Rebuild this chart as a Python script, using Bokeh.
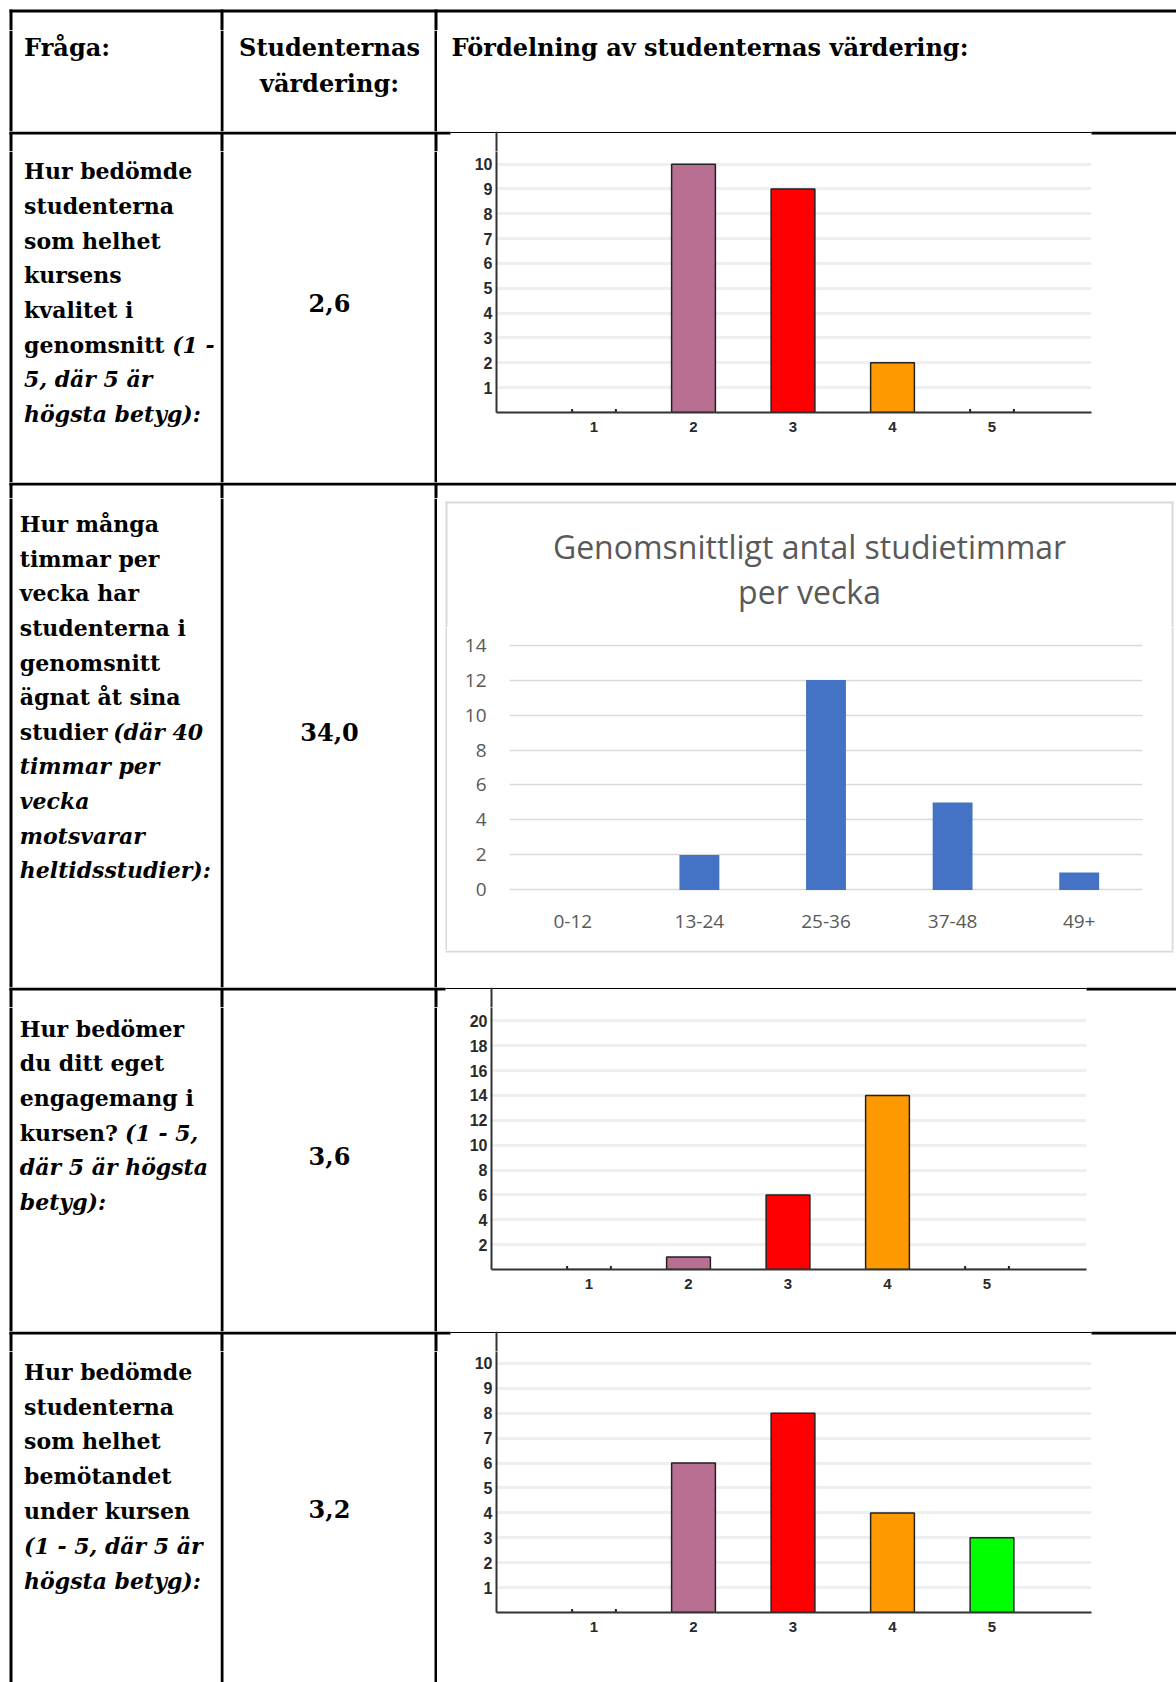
from bokeh.plotting import figure
from bokeh.layouts import row, column
from bokeh.models import Range1d, FactorRange, FixedTicker
from bokeh.core.properties import value
from bokeh.embed import file_html
from bokeh.resources import INLINE

# ---------------- data ----------------
grades = [1, 2, 3, 4, 5]
grade_colors = ["#993366", "#B86F92", "#FF0000", "#FF9900", "#00FF00"]
q1_counts = [0, 10, 9, 2, 0]
q3_counts = [0, 1, 6, 14, 0]
q4_counts = [0, 6, 8, 4, 3]
hours_cats = ["0-12", "13-24", "25-36", "37-48", "49+"]
hours_counts = [0, 2, 12, 5, 1]
q1_ticks = [1, 2, 3, 4, 5, 6, 7, 8, 9, 10]
q3_ticks = [2, 4, 6, 8, 10, 12, 14, 16, 18, 20]
q4_ticks = [1, 2, 3, 4, 5, 6, 7, 8, 9, 10]
hours_ticks = [0, 2, 4, 6, 8, 10, 12, 14]
mean_values = ["2,6", "34,0", "3,6", "3,2"]

header_texts = ["Fråga:", "Studenternas", "värdering:", "Fördelning av studenternas värdering:"]
hours_title = ["Genomsnittligt antal studietimmar", "per vecka"]

# question texts: list of lines, each line a list of (text, italic)
q_lines = [
    [[("Hur bedömde", False)], [("studenterna", False)], [("som helhet", False)],
     [("kursens", False)], [("kvalitet i", False)],
     [("genomsnitt", False), ("(1 -", True)], [("5, där 5 är", True)],
     [("högsta betyg):", True)]],
    [[("Hur många", False)], [("timmar per", False)], [("vecka har", False)],
     [("studenterna i", False)], [("genomsnitt", False)], [("ägnat åt sina", False)],
     [("studier", False), ("(där 40", True)], [("timmar per", True)], [("vecka", True)],
     [("motsvarar", True)], [("heltidsstudier):", True)]],
    [[("Hur bedömer", False)], [("du ditt eget", False)], [("engagemang i", False)],
     [("kursen?", False), ("(1 - 5,", True)], [("där 5 är högsta", True)],
     [("betyg):", True)]],
    [[("Hur bedömde", False)], [("studenterna", False)], [("som helhet", False)],
     [("bemötandet", False)], [("under kursen", False)],
     [("(1 - 5, där 5 är", True)], [("högsta betyg):", True)]],
]

# ---------------- layout constants (pixels) ----------------
W = 1176
W_A, W_B, W_C = 220, 217, 739
ROW_H = [101, 331, 489, 324, 331]          # header, q1..q4
SEP_H = [30, 20, 16, 20, 20]
TFONT = "DejaVu Serif"
BODY_SIZE = "22px"
HEAD_SIZE = "24px"
LINE_STEP = [34.7, 34.6, 34.7, 34.8]
LINE_Y0 = [19.6, 25.6, 21.0, 20.3]
TEXT_X = [23.6, 19.3, 19.3, 23.6]
ITALIC_X = [{5: 171.7}, {6: 112.7}, {3: 124.5}, {}]
VALUE_Y = [151.6, 233.8, 148.6, 157.6]
VCOLS = [(9, 12), (220, 223), (434, 437)]


def cell(w, h, bg="white"):
    p = figure(width=w, height=h, x_range=Range1d(0, w), y_range=Range1d(h, 0),
               min_border=0, toolbar_location=None, output_backend="svg",
               x_axis_location=None, y_axis_location=None, title=None,
               outline_line_color=None, background_fill_color=bg, border_fill_color=bg)
    p.grid.visible = False
    return p


def box(p, l, r, t, b, color="black"):
    p.quad(left=[l], right=[r], top=[t], bottom=[b], fill_color=color, line_color=None)


def txt(p, x, y, s, italic=False, align="left", size=BODY_SIZE):
    p.text(x=[x], y=[y], text=[s], text_font=value(TFONT), text_font_size=size,
           text_font_style="bold italic" if italic else "bold", text_color="black",
           text_align=align, text_baseline="middle")


def separator(h, line_top, thin=None, axis_x=None):
    p = cell(W, h)
    if thin is None:
        box(p, 9, W, line_top, line_top + 3)
    else:
        box(p, 9, thin[0], line_top, line_top + 3)
        box(p, thin[0], thin[1], line_top + 0.4, line_top + 1.6)
        box(p, thin[1], W, line_top, line_top + 3)
    for l, r in VCOLS:
        box(p, l, r, line_top, h)
    if axis_x is not None:
        box(p, axis_x - 1, axis_x + 1, line_top, h, "#333333")
    return p


def text_cells(i):
    h = ROW_H[i + 1]
    a = cell(W_A, h)
    box(a, 9, 12, 0, h)
    for k, segs in enumerate(q_lines[i]):
        y = LINE_Y0[i] + LINE_STEP[i] * k
        for j, (s, it) in enumerate(segs):
            x = TEXT_X[i] if j == 0 else ITALIC_X[i][k]
            txt(a, x, y, s, italic=it)
    b = cell(W_B, h)
    box(b, 0, 3, 0, h); box(b, 214, 217, 0, h)
    txt(b, 109, VALUE_Y[i], mean_values[i], align="center", size=HEAD_SIZE)
    return a, b


def grade_chart(counts, ticks, h, left, right, bottom, ytop):
    p = figure(width=W_C, height=h, x_range=Range1d(0.02, 6.0), y_range=Range1d(0, ytop),
               min_border_left=left, min_border_right=right, min_border_top=0,
               min_border_bottom=bottom, toolbar_location=None, output_backend="svg",
               outline_line_color=None, title=None)
    p.vbar(x=grades, top=counts, width=0.44, fill_color=grade_colors,
           line_color="#222222", line_width=1.5)
    zx = []
    for g, c in zip(grades, counts):
        if c == 0:
            zx += [g - 0.22, g + 0.22]
    p.rect(x=zx, y=[0] * len(zx), width=2, height=7, width_units="screen",
           height_units="screen", fill_color="#222222", line_color=None)
    p.xgrid.visible = False
    p.ygrid.ticker = FixedTicker(ticks=ticks)
    p.ygrid.grid_line_color = "#EFEFEF"
    p.ygrid.grid_line_width = 3
    p.yaxis.ticker = FixedTicker(ticks=ticks)
    p.xaxis.ticker = FixedTicker(ticks=grades)
    for ax in (p.xaxis, p.yaxis):
        ax.axis_line_color = "#333333"
        ax.axis_line_width = 2
        ax.major_tick_line_color = None
        ax.minor_tick_line_color = None
        ax.major_tick_out = 0
        ax.major_tick_in = 0
        ax.major_label_text_font = "Liberation Sans"
        ax.major_label_text_font_style = "bold"
        ax.major_label_text_color = "#2A2A2A"
    p.yaxis.major_label_text_font_size = "16px"
    p.xaxis.major_label_text_font_size = "15px"
    p.yaxis.major_label_standoff = 4
    p.xaxis.major_label_standoff = 9
    return p


parts = []

# ---------------- header ----------------
parts.append(separator(SEP_H[0], 9))
hA = cell(W_A, ROW_H[0])
box(hA, 9, 12, 0, ROW_H[0])
txt(hA, 23.6, 17, header_texts[0], size=HEAD_SIZE)
hB = cell(W_B, ROW_H[0])
box(hB, 0, 3, 0, ROW_H[0]); box(hB, 214, 217, 0, ROW_H[0])
txt(hB, 109, 17, header_texts[1], align="center", size=HEAD_SIZE)
txt(hB, 109, 52.6, header_texts[2], align="center", size=HEAD_SIZE)
hC = cell(W_C, ROW_H[0])
txt(hC, 14, 17, header_texts[3], size=HEAD_SIZE)
parts.append(row(hA, hB, hC))

# ---------------- row 1 ----------------
parts.append(separator(SEP_H[1], 0, thin=(450, 1091), axis_x=496))
a1, b1 = text_cells(0)
c1 = grade_chart(q1_counts, q1_ticks, ROW_H[1], 59, 85, 70, 10.51)
parts.append(row(a1, b1, column(c1)))

# ---------------- row 2 (Excel style chart) ----------------
parts.append(separator(SEP_H[2], 0))
a2, b2 = text_cells(1)
GREY = "#D9D9D9"
TOP2_H, MID2_H = 129, 323
top2 = cell(W_C, TOP2_H)
box(top2, 8, 736, 3, 5, GREY)
box(top2, 8, 10, 3, TOP2_H, GREY)
box(top2, 734, 736, 3, TOP2_H, GREY)
top2.text(x=[372, 372], y=[48, 93], text=hours_title, text_font=value("Open Sans"),
          text_font_size="32px", text_color="#595959", text_align="center",
          text_baseline="middle")
left2 = cell(10, MID2_H); box(left2, 8, 10, 0, MID2_H, GREY)
right2 = cell(5, MID2_H); box(right2, 0, 2, 0, MID2_H, GREY)
bot2 = cell(W_C, 37)
box(bot2, 8, 736, 0, 2, GREY)

p2 = figure(width=724, height=MID2_H, x_range=FactorRange(*hours_cats), y_range=Range1d(-0.15, 14.15),
            min_border_left=62, min_border_right=29, min_border_top=15, min_border_bottom=58,
            toolbar_location=None, output_backend="svg", outline_line_color=None, title=None)
p2.vbar(x=hours_cats, top=hours_counts, width=0.315, fill_color="#4472C4", line_color=None)
p2.xgrid.visible = False
p2.ygrid.ticker = FixedTicker(ticks=hours_ticks)
p2.ygrid.grid_line_color = GREY
p2.ygrid.grid_line_width = 1.5
p2.yaxis.ticker = FixedTicker(ticks=hours_ticks)
for ax in (p2.xaxis, p2.yaxis):
    ax.axis_line_color = None
    ax.major_tick_line_color = None
    ax.minor_tick_line_color = None
    ax.major_tick_out = 0
    ax.major_label_text_font = "Open Sans"
    ax.major_label_text_font_size = "19px"
    ax.major_label_text_color = "#595959"
p2.yaxis.major_label_standoff = 23
p2.xaxis.major_label_standoff = 22

c2 = column(top2, row(column(left2), column(p2), column(right2)), bot2)
parts.append(row(a2, b2, c2))

# ---------------- row 3 ----------------
parts.append(separator(SEP_H[3], 0, thin=(445, 1086), axis_x=491))
a3, b3 = text_cells(2)
c3 = grade_chart(q3_counts, q3_ticks, ROW_H[3], 54, 90, 62, 21.07)
parts.append(row(a3, b3, column(c3)))

# ---------------- row 4 ----------------
parts.append(separator(SEP_H[4], 0, thin=(450, 1091), axis_x=496))
a4, b4 = text_cells(3)
c4 = grade_chart(q4_counts, q4_ticks, ROW_H[4], 59, 85, 70, 10.48)
parts.append(row(a4, b4, column(c4)))

page = column(*parts)
open("out.html", "w").write(file_html(page, INLINE))
